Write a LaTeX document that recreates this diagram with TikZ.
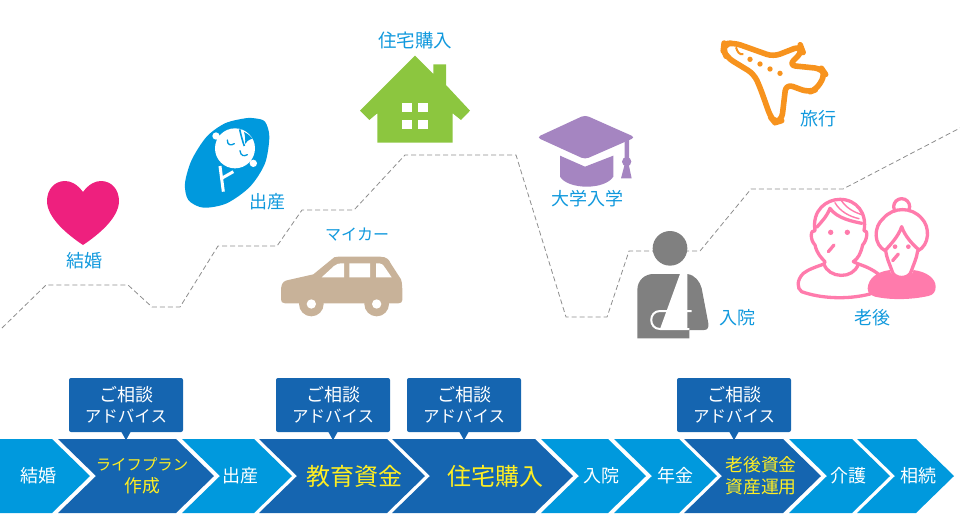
\documentclass[tikz,border=0pt]{standalone}
\usepackage{fontspec}
\setmainfont{Noto Sans CJK JP}
\usetikzlibrary{arrows.meta, positioning}
\definecolor{stepL}{RGB}{0, 153, 221}
\definecolor{stepD}{RGB}{21, 101, 176}
\definecolor{goldT}{RGB}{255, 238, 34}
\definecolor{capT}{RGB}{17, 153, 221}
\definecolor{heartC}{RGB}{238, 32, 126}
\definecolor{houseC}{RGB}{140, 198, 63}
\definecolor{carC}{RGB}{200, 178, 153}
\definecolor{hatC}{RGB}{165, 133, 193}
\definecolor{planeC}{RGB}{247, 147, 30}
\definecolor{manC}{RGB}{128, 128, 128}
\definecolor{oldC}{RGB}{255, 123, 172}
\newcommand{\advtext}{{\fontsize{18}{21}\selectfont ご相談}\\アドバイス}
\begin{document}
\begin{tikzpicture}[x=1pt, y=-1pt,
        lbl/.style={text=capT, inner sep=0pt, font=\fontsize{18}{21}\selectfont},
        st/.style={text=white, inner sep=0pt, align=center, font=\fontsize{18}{21}\selectfont},
        sty/.style={text=goldT, inner sep=0pt, align=center, font=\fontsize{17.8}{22}\selectfont},
        big/.style={text=goldT, inner sep=0pt, font=\fontsize{24}{28}\selectfont},
        adv/.style={rectangle, rounded corners=2pt, fill=stepD, text=white, minimum width=114pt,
                    minimum height=54pt, inner sep=0pt, align=center, font=\fontsize{16.5}{21}\selectfont},
        old/.style={draw=oldC, line width=3.3pt, line join=round, line cap=round}]
    \useasboundingbox (0,0) rectangle (960,520);
    % life line
    \draw[manC!90, line width=0.8pt, dash pattern=on 5pt off 3pt]
        (2,328) -- (46,285) -- (128,285) -- (152,307) -- (180,307) -- (218,246) -- (277,246)
        -- (302,210) -- (354,210) -- (405,155) -- (516,155) -- (566,317) -- (607,317) -- (629,251)
        -- (700,251) -- (751,189) -- (843,189) -- (960,128);
    % chevrons
    \fill[stepL] (0,439) -- (52,439) -- (90,476) -- (52,513) -- (0,513) -- cycle;
    \foreach \a/\b/\c in {58/176/stepD, 182/254/stepL, 259/387/stepD, 392/535/stepD, 541/608/stepL,
                          614/679/stepL, 684/783/stepD, 789/852/stepL, 857/916/stepL}
        \fill[\c] (\a,439) -- (\b,439) -- (\b+38,476) -- (\b,513) -- (\a,513) -- (\a+38,476) -- cycle;
    \node[st]  (s1)  at (38,476)  {結婚};
    \node[sty, font=\fontsize{15.4}{22}\selectfont] (s2) at (142,476) {ライフプラン\\{\fontsize{17.8}{22}\selectfont 作成}};
    \node[st]  (s3)  at (240,476) {出産};
    \node[big] (s4)  at (354,476) {教育資金};
    \node[big] (s5)  at (495,476) {住宅購入};
    \node[st]  (s6)  at (601,476) {入院};
    \node[st]  (s7)  at (675,476) {年金};
    \node[sty] (s8)  at (761,476) {老後資金\\資産運用};
    \node[st]  (s9)  at (848,476) {介護};
    \node[st]  (s10) at (918,476) {相続};
    % advice boxes
    \node[adv] (c1) at (126,405) {\advtext};
    \node[adv] (c2) at (333,405) {\advtext};
    \node[adv] (c3) at (464,405) {\advtext};
    \node[adv] (c4) at (734,405) {\advtext};
    \foreach \n in {c1, c2, c3, c4}
        \fill[stepD] (\n.south) ++(-5,-1) -- ++(5,9) -- ++(5,-9) -- cycle;
    % heart
    \fill[heartC] (83,192) .. controls (77,184) and (71,181) .. (65,181)
        .. controls (54,181) and (47,190) .. (47,201) .. controls (47,218) and (68,235) .. (83,245)
        .. controls (98,235) and (119,218) .. (119,201) .. controls (119,190) and (112,181) .. (101,181)
        .. controls (95,181) and (89,184) .. (83,192) -- cycle;
    \node[lbl] (t1) at (84,261) {結婚};
    % baby
    \begin{scope}[shift={(170,100)}, scale=1/3]
        \fill[stepL] plot[smooth cycle] coordinates {(255,55) (285,65) (298,110) (285,190) (240,260)
            (170,310) (100,323) (55,300) (45,250) (65,180) (110,110) (165,70) (225,55)};
        \fill[white] (195,145) circle (60) (138,108) circle (11) (250,190) circle (11);
        \fill[stepL] (222,96) .. controls (235,102) and (243,110) .. (247,116)
            .. controls (236,119) and (229,125) .. (225,132) .. controls (227,118) and (225,106) .. (222,96) -- cycle;
        \draw[stepL, line width=1.6pt] (209,88) .. controls (213,105) and (217,122) .. (223,138);
        \draw[stepL, line width=1.3pt, line cap=round] (172,120) .. controls (172,135) and (182,138) .. (193,131)
            (210,152) .. controls (212,168) and (222,170) .. (232,164);
        \draw[white, line width=3pt] (150,198) -- (160,275) (155,235) -- (190,215);
    \end{scope}
    \node[lbl] (t2) at (267,202) {出産};
    % house
    \fill[houseC] (415,55.7) -- (433.3,74) -- (433.3,64.3) -- (446,64.3) -- (446,85) -- (470,110.7) -- (461,120)
        -- (452.7,113.3) -- (452.7,142.7) -- (377.3,142.7) -- (377.3,113.3) -- (369.3,120) -- (360,110.7) -- cycle;
    \foreach \x in {402,418}
        \foreach \y in {103,120}
            \fill[white] (\x,\y) rectangle ++(10,8.5);
    \node[lbl, font=\fontsize{18.5}{21}\selectfont] (t3) at (415,40) {住宅購入};
    % car
    \begin{scope}[shift={(270,220)}, scale=1/3]
        \fill[carC] (33,205) .. controls (35,185) and (45,182) .. (55,180) -- (130,163) -- (185,118)
            .. controls (190,112) and (195,110) .. (205,110) -- (330,110) .. controls (350,110) and (358,120) .. (362,130)
            -- (393,178) .. controls (397,190) and (397,200) .. (397,240) .. controls (397,247) and (392,250) .. (385,250)
            -- (45,250) .. controls (36,250) and (33,245) .. (33,238) -- cycle;
        \fill[carC] (124,252) circle (37) (320,252) circle (37);
        \fill[white] (124,252) circle (14) (320,252) circle (14);
        \fill[white] (155,172) -- (192,138) .. controls (198,132) and (205,130) .. (222,130) -- (222,172) -- cycle
            (238,130) rectangle (300,172)
            (318,130) -- (328,130) .. controls (335,130) and (340,135) .. (343,140) -- (365,172) -- (318,172) -- cycle;
    \end{scope}
    \node[lbl, font=\fontsize{16}{20}\selectfont] (t4) at (357,235) {マイカー};
    % cap
    \begin{scope}[shift={(530,105)}, scale=1/3]
        \fill[hatC] (90,152) -- (165,185) -- (250,152) -- (250,215) .. controls (225,255) and (115,255) .. (90,215) -- cycle;
        \fill[hatC, rounded corners=4pt] (20,97) -- (165,30) -- (316,97) -- (165,163) -- cycle;
        \fill[hatC] (284,110) -- (297,104) -- (297,165) -- (284,165) -- cycle;
        \fill[hatC] (290,170) circle (14);
        \fill[hatC] (284,178) -- (296,178) -- (305,220) -- (273,220) -- cycle;
    \end{scope}
    \node[lbl] (t5) at (587,199) {大学入学};
    % plane
    \begin{scope}[shift={(710,30)}, scale=1/3]
        \draw[planeC, line width=5.6pt, line join=round, fill=white, rounded corners=7pt]
            (42,42) -- (72,38) -- (190,80) -- (272,48) -- (278,64) -- (236,106) -- (335,116) -- (346,132)
            -- (320,178) -- (296,187) -- (228,162) -- (215,272) -- (195,278) -- (182,262) -- (150,172) -- (132,132)
            -- (50,82) -- (40,60) -- cycle;
        \draw[planeC, line width=2pt] (78,52) .. controls (82,65) and (88,76) .. (100,72);
        \foreach \x/\y in {120/88, 150/102, 180/117, 210/130}
            \fill[planeC] (\x,\y) circle (8);
    \end{scope}
    \node[lbl] (t6) at (818,119) {旅行};
    % injured person
    \begin{scope}[shift={(630,225)}, scale=1/3]
        \fill[manC] (120,70) circle (52);
        \fill[manC] (22,340) -- (22,195) .. controls (22,165) and (45,147) .. (70,147) -- (172,147)
            .. controls (195,150) and (210,170) .. (215,190) -- (235,295) .. controls (237,308) and (232,315) .. (222,315)
            -- (178,315) -- (178,340) -- cycle;
        \fill[white] (150,147) -- (172,147) -- (172,312) -- (90,312) -- cycle;
        \draw[white, line width=2pt] (185,258) -- (90,258) .. controls (55,258) and (55,312) .. (90,312) -- (178,312);
    \end{scope}
    \node[lbl] (t7) at (737,318) {入院};
    % old couple
    \begin{scope}[shift={(790,190)}, scale=1/3]
        \draw[old, fill=white] (205,222) .. controls (230,230) and (250,240) .. (265,252) -- (240,312)
            .. controls (170,330) and (90,325) .. (35,305) .. controls (20,295) and (20,270) .. (40,250)
            .. controls (55,238) and (80,230) .. (102,222) .. controls (115,265) and (190,270) .. (205,222);
        \draw[old, fill=white] (102,222) -- (105,215) .. controls (95,205) and (80,190) .. (75,165)
            .. controls (60,150) and (60,118) .. (75,122) .. controls (65,60) and (110,28) .. (150,28)
            .. controls (200,28) and (232,70) .. (222,122) .. controls (235,118) and (232,150) .. (218,165)
            .. controls (212,190) and (205,205) .. (190,215) -- (205,222);
        \draw[old] (80,112) .. controls (95,95) and (110,80) .. (120,55) .. controls (140,85) and (190,95) .. (216,100);
        \draw[old, line width=1.4pt] (135,38) .. controls (150,65) and (180,80) .. (207,86)
            (155,33) .. controls (170,55) and (195,68) .. (216,74);
        \fill[oldC] (122,127) circle (8) (172,127) circle (8);
        \draw[old] (115,185) -- (132,165);
        \fill[oldC] (233,295) .. controls (235,265) and (260,245) .. (300,240) -- (370,240) .. controls (410,245) and (437,265) .. (437,290)
            .. controls (437,305) and (430,315) .. (415,318) .. controls (360,330) and (300,330) .. (255,320)
            .. controls (240,315) and (233,308) .. (233,295) -- cycle;
        \fill[white] (298,236) .. controls (305,275) and (365,275) .. (372,236) -- cycle;
        \draw[old, fill=white] (335,50) circle (24);
        \draw[old, fill=white] (305,240) .. controls (300,225) and (290,205) .. (287,183) .. controls (250,165) and (250,110) .. (280,85)
            .. controls (310,50) and (365,50) .. (395,85) .. controls (420,110) and (420,165) .. (383,183)
            .. controls (380,205) and (370,225) .. (365,240) .. controls (360,270) and (310,270) .. (305,240);
        \draw[old] (287,180) .. controls (300,165) and (325,140) .. (335,110) .. controls (345,140) and (370,165) .. (385,178);
        \fill[oldC] (315,170) circle (7) (355,170) circle (7);
        \draw[old] (308,212) -- (325,192);
    \end{scope}
    \node[lbl] (t8) at (872,318) {老後};
\end{tikzpicture}
\end{document}
